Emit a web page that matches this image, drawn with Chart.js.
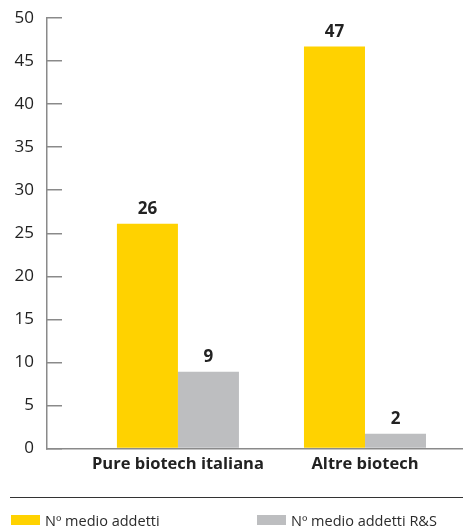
<!DOCTYPE html>
<html>
<head>
<meta charset="utf-8">
<script src="https://cdn.jsdelivr.net/npm/chart.js@4/dist/chart.umd.min.js"></script>
<style>
  html, body { margin: 0; padding: 0; background: #fff; }
  #wrap { position: relative; width: 463px; height: 528px; overflow: hidden; font-family: "Open Sans", sans-serif; }
  canvas { position: absolute; left: 0; top: 0; }
  #rule { position: absolute; left: 10px; top: 497px; width: 453px; height: 0; border-top: 1px solid #333; }
  .leg { position: absolute; top: 509px; height: 22px; display: flex; align-items: center; font-size: 14.5px; color: #2b2b2b; white-space: nowrap; }
  .leg span.box { display: inline-block; width: 29px; height: 10px; margin-right: 5px; }
</style>
</head>
<body>
<div id="wrap">
  <canvas id="c" width="463" height="528"></canvas>
  <div id="rule"></div>
  <div class="leg" id="leg0" style="left:11px"><span class="box"></span><span class="txt"></span></div>
  <div class="leg" id="leg1" style="left:257px"><span class="box"></span><span class="txt"></span></div>
</div>
<script>
const categories = ["Pure biotech italiana", "Altre biotech"];
const seriesNames = ["Nº medio addetti", "Nº medio addetti R&S"];
const addetti = [26.1, 46.7];
const addettiRS = [8.9, 1.7];
const valueLabels = [["26", "47"], ["9", "2"]];
const yTicks = [0, 5, 10, 15, 20, 25, 30, 35, 40, 45, 50];
const colors = ["#FFD200", "#BDBEC0"];

["leg0", "leg1"].forEach((id, i) => {
  const el = document.getElementById(id);
  el.querySelector(".box").style.background = colors[i];
  el.querySelector(".txt").textContent = seriesNames[i];
});

const toPoints = arr => arr.map((v, i) => ({ x: i + 1, y: v }));

const labelPlugin = {
  id: "valueLabels",
  afterDatasetsDraw(chart) {
    const ctx = chart.ctx;
    ctx.save();
    ctx.font = "bold 17px 'Open Sans', sans-serif";
    ctx.fillStyle = "#222";
    ctx.textAlign = "center";
    ctx.textBaseline = "bottom";
    chart.data.datasets.forEach((ds, di) => {
      const meta = chart.getDatasetMeta(di);
      meta.data.forEach((bar, i) => {
        ctx.fillText(valueLabels[di][i], bar.x, bar.y - 6);
      });
    });
    ctx.restore();
  }
};

new Chart(document.getElementById("c"), {
  type: "bar",
  data: {
    datasets: [
      { label: seriesNames[0], data: toPoints(addetti), backgroundColor: colors[0] },
      { label: seriesNames[1], data: toPoints(addettiRS), backgroundColor: colors[1] }
    ]
  },
  options: {
    responsive: false,
    animation: false,
    events: [],
    layout: { padding: { top: 18, right: 0, left: 0, bottom: 0 } },
    plugins: { legend: { display: false }, tooltip: { enabled: false } },
    datasets: { bar: { categoryPercentage: 0.6524, barPercentage: 1.0 } },
    scales: {
      x: {
        type: "linear",
        offset: false,
        bounds: "data",
        min: 0.3,
        max: 2.524,
        afterBuildTicks: s => { s.ticks = categories.map((c, i) => ({ value: i + 1 })); },
        afterFit: s => { s.height = 79.5; s.paddingLeft = 0; s.paddingRight = 0; },
        grid: { display: false, drawTicks: false, offset: false },
        border: { color: "#8a8a8a", width: 1.5 },
        ticks: {
          padding: 6,
          autoSkip: false,
          maxRotation: 0,
          minRotation: 0,
          color: "#222",
          font: { family: "'Open Sans', sans-serif", size: 16.5, weight: "bold" },
          callback: v => categories[v - 1] || ""
        }
      },
      y: {
        min: 0,
        max: 50,
        afterBuildTicks: s => { s.ticks = yTicks.map(v => ({ value: v })); },
        afterFit: s => { s.width = 47; s.paddingTop = 0; s.paddingBottom = 0; },
        grid: { drawOnChartArea: false, drawTicks: true, tickLength: -15, color: "#8a8a8a", lineWidth: 1.5 },
        border: { color: "#8a8a8a", width: 1.5 },
        ticks: {
          padding: 28,
          color: "#222",
          font: { family: "'Open Sans', sans-serif", size: 17 }
        }
      }
    }
  },
  plugins: [labelPlugin]
});
</script>
</body>
</html>
